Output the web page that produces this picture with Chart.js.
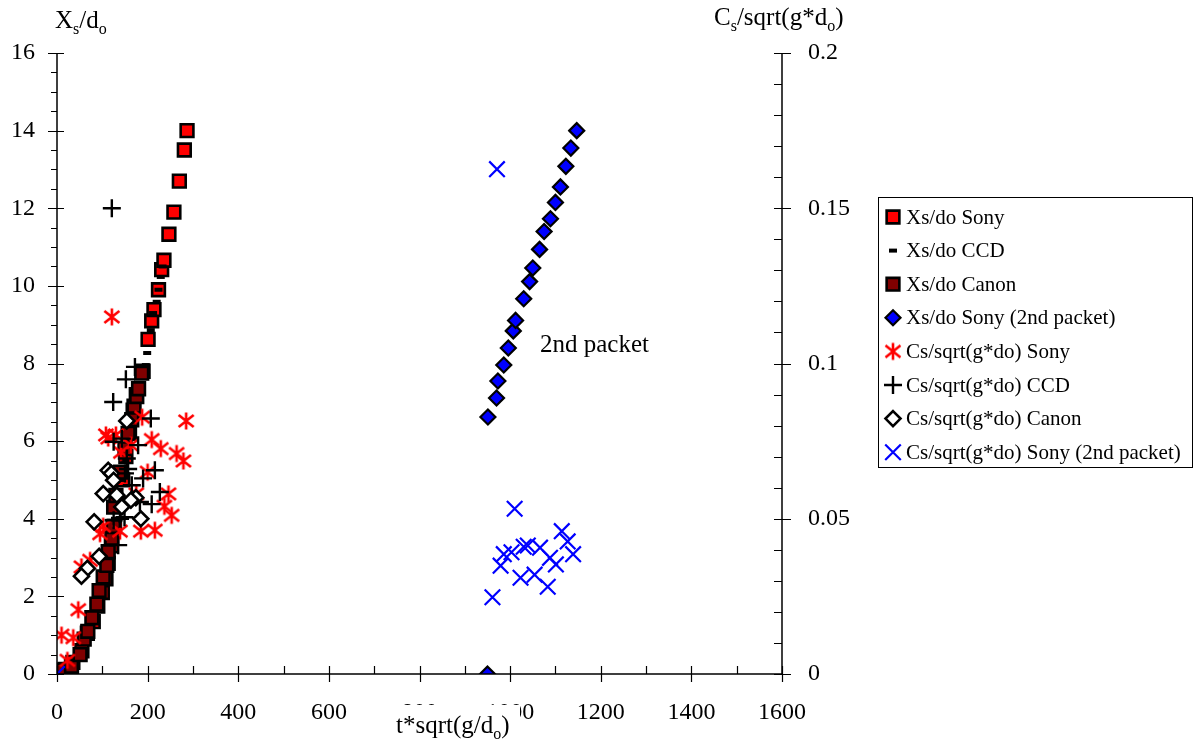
<!DOCTYPE html>
<html><head><meta charset="utf-8">
<script src="https://cdn.jsdelivr.net/npm/chart.js@4.4.0/dist/chart.umd.min.js"></script>
<style>html,body{margin:0;padding:0;background:#fff;}#wrap{width:1195px;height:744px;position:relative;}</style>
</head><body><div id="wrap"><canvas id="c" width="1195" height="744"></canvas></div>
<script>
const FONT = '"Liberation Serif","Times New Roman",serif';

// ---- data (t*sqrt(g/do) vs values) ----
const sonyT  = [0, 18, 35, 55, 67, 80, 90, 100, 108, 113, 120, 127, 135, 145, 152, 160, 168, 175, 190, 201, 209, 214, 224, 231, 236, 247, 258, 270, 281, 287];
const sonyXs = [0, 0.12, 0.3, 0.6, 1.05, 1.35, 1.75, 2.1, 2.45, 2.85, 3.3, 3.8, 4.4, 5.0, 5.6, 6.2, 6.8, 7.2, 7.8, 8.62, 9.1, 9.39, 9.9, 10.42, 10.66, 11.33, 11.9, 12.7, 13.5, 14.0];

const ccdT  = [0, 20, 40, 58, 70, 82, 92, 100, 108, 114, 120, 128, 135, 142, 150, 158, 165, 172, 180, 190, 196, 199, 207, 212, 220, 224, 229, 233];
const ccdXs = [0, 0.1, 0.3, 0.6, 1.0, 1.4, 1.9, 2.3, 2.7, 3.1, 3.6, 4.0, 4.5, 5.0, 5.5, 6.0, 6.5, 7.0, 7.4, 7.7, 7.96, 8.27, 8.86, 9.3, 9.59, 9.9, 10.23, 10.5];

const canonT  = [0, 14, 32, 51, 60, 68, 77, 88, 93, 102, 110, 113, 121, 124, 125, 130, 140, 150, 157, 165, 170, 176, 180, 187];
const canonXs = [0, 0.1, 0.2, 0.5, 0.9, 1.1, 1.45, 1.8, 2.15, 2.5, 2.8, 3.15, 3.5, 3.8, 4.3, 4.6, 5.2, 5.8, 6.2, 6.55, 6.9, 7.15, 7.35, 7.75];

const sony2T  = [950, 951, 970, 973, 986, 996, 1007, 1012, 1030, 1043, 1050, 1065, 1075, 1089, 1100, 1111, 1123, 1134, 1147];
const sony2Xs = [0, 6.62, 7.11, 7.55, 7.96, 8.40, 8.84, 9.11, 9.67, 10.11, 10.46, 10.94, 11.40, 11.73, 12.15, 12.55, 13.08, 13.55, 14.0];

const csSonyT = [10, 23, 36, 47, 54, 73, 95, 102, 139, 185, 216, 253, 237, 246, 113, 209, 229, 264, 279, 285, 121, 108, 130, 141, 188, 163, 200, 175];
const csSony  = [0.0125, 0.0044, 0.0117, 0.0207, 0.0345, 0.0366, 0.0452, 0.0476, 0.046, 0.046, 0.0463, 0.0511, 0.054, 0.058, 0.076, 0.0755, 0.0726, 0.071, 0.0686, 0.0815, 0.115, 0.077, 0.077, 0.0714, 0.0827, 0.0737, 0.065, 0.058];

const csCcdT = [121, 172, 152, 124, 207, 143, 125, 179, 154, 216, 150, 190, 227, 209, 183, 139, 125, 135, 165, 157, 149];
const csCcd  = [0.15, 0.0989, 0.0949, 0.0876, 0.0823, 0.0758, 0.0748, 0.0737, 0.0694, 0.0656, 0.0646, 0.063, 0.0586, 0.0547, 0.0554, 0.05, 0.0495, 0.0415, 0.0608, 0.066, 0.0505];

const csCanonT = [154, 113, 120, 125, 102, 132, 174, 163, 143, 185, 82, 93, 67, 54];
const csCanon  = [0.0815, 0.0656, 0.0646, 0.0624, 0.0581, 0.0576, 0.0568, 0.056, 0.0538, 0.05, 0.049, 0.0379, 0.034, 0.0315];

const csSony2T = [0, 971, 1010, 1114, 1127, 1139, 1066, 1039, 1030, 1003, 986, 979, 1088, 1101, 1023, 1054, 1083, 961];
const csSony2  = [0, 0.1626, 0.0532, 0.046, 0.0427, 0.0386, 0.0407, 0.0414, 0.041, 0.0392, 0.0386, 0.0349, 0.0374, 0.0353, 0.031, 0.032, 0.0281, 0.0247];

const xTickLabels = ['0','200','400','600','800','1000','1200','1400','1600'];
const leftTickLabels = ['0','2','4','6','8','10','12','14','16'];
const rightTickLabels = ['0','0.05','0.1','0.15','0.2'];
const seriesNames = ['Xs/do Sony','Xs/do CCD','Xs/do Canon','Xs/do Sony (2nd packet)','Cs/sqrt(g*do) Sony','Cs/sqrt(g*do) CCD','Cs/sqrt(g*do) Canon','Cs/sqrt(g*do) Sony (2nd packet)'];

const pts = (xs, ys) => xs.map((x, i) => ({x: x, y: ys[i]}));

// asterisk marker
function makeAsterisk() {
  const c = document.createElement('canvas');
  c.width = 20; c.height = 20;
  const g = c.getContext('2d');
  g.strokeStyle = '#FF0000'; g.lineWidth = 2.6; g.lineCap = 'butt';
  g.beginPath();
  g.moveTo(10, 1.5); g.lineTo(10, 18.5);
  g.moveTo(2.5, 4); g.lineTo(17.5, 16);
  g.moveTo(2.5, 16); g.lineTo(17.5, 4);
  g.stroke();
  return c;
}
const asterisk = makeAsterisk();

const styles = [
  {yAxisID:'y',  pointStyle:'rect',    pointRadius:9,   pointBackgroundColor:'#FF0000', pointBorderColor:'#000', pointBorderWidth:2.6},
  {yAxisID:'y',  pointStyle:'line',    pointRadius:4,   pointBackgroundColor:'#000',    pointBorderColor:'#000', pointBorderWidth:4},
  {yAxisID:'y',  pointStyle:'rect',    pointRadius:9,   pointBackgroundColor:'#800000', pointBorderColor:'#000', pointBorderWidth:2.6},
  {yAxisID:'y',  pointStyle:'rectRot', pointRadius:7.5, pointBackgroundColor:'#0000FF', pointBorderColor:'#000', pointBorderWidth:2.2},
  {yAxisID:'y2', pointStyle:asterisk,  pointRadius:10,  pointBackgroundColor:'#FF0000', pointBorderColor:'#FF0000', pointBorderWidth:1},
  {yAxisID:'y2', pointStyle:'cross',   pointRadius:9,   pointBackgroundColor:'#000',    pointBorderColor:'#000', pointBorderWidth:2.4},
  {yAxisID:'y2', pointStyle:'rectRot', pointRadius:7.5, pointBackgroundColor:'#FFFFFF', pointBorderColor:'#000', pointBorderWidth:2.6},
  {yAxisID:'y2', pointStyle:'crossRot',pointRadius:11,  pointBackgroundColor:'#0000FF', pointBorderColor:'#0000FF', pointBorderWidth:2.2}
];
const seriesData = [
  pts(sonyT, sonyXs), pts(ccdT, ccdXs), pts(canonT, canonXs), pts(sony2T, sony2Xs),
  pts(csSonyT, csSony), pts(csCcdT, csCcd), pts(csCanonT, csCanon), pts(csSony2T, csSony2)
];
const datasets = seriesData.map((d, i) => Object.assign({
  label: seriesNames[i], data: d, showLine: false, order: 10 - i,
  pointHoverRadius: styles[i].pointRadius
}, styles[i]));

function drawRich(ctx, parts, x, y, size) {
  let cx = x;
  parts.forEach(p => {
    const s = p.sub ? Math.round(size * 0.65) : size;
    ctx.font = s + 'px ' + FONT;
    ctx.fillText(p.t, cx, p.sub ? y + size * 0.22 : y);
    cx += ctx.measureText(p.t).width;
  });
  return cx - x;
}

function legendMarker(ctx, st, x, y) {
  ctx.save();
  ctx.lineWidth = st.pointBorderWidth;
  ctx.strokeStyle = st.pointBorderColor;
  ctx.fillStyle = st.pointBackgroundColor;
  const r = st.pointRadius;
  ctx.beginPath();
  if (typeof st.pointStyle !== 'string') {
    ctx.drawImage(st.pointStyle, x - 10, y - 10);
  } else if (st.pointStyle === 'rect') {
    const h = r * Math.SQRT1_2;
    ctx.rect(x - h, y - h, 2 * h, 2 * h); ctx.fill(); ctx.stroke();
  } else if (st.pointStyle === 'rectRot') {
    ctx.moveTo(x, y - r); ctx.lineTo(x + r, y); ctx.lineTo(x, y + r); ctx.lineTo(x - r, y); ctx.closePath();
    ctx.fill(); ctx.stroke();
  } else if (st.pointStyle === 'line') {
    ctx.moveTo(x - r, y); ctx.lineTo(x + r, y); ctx.stroke();
  } else if (st.pointStyle === 'cross') {
    ctx.moveTo(x - r, y); ctx.lineTo(x + r, y); ctx.moveTo(x, y - r); ctx.lineTo(x, y + r); ctx.stroke();
  } else if (st.pointStyle === 'crossRot') {
    const h = r * Math.SQRT1_2;
    ctx.moveTo(x - h, y - h); ctx.lineTo(x + h, y + h); ctx.moveTo(x - h, y + h); ctx.lineTo(x + h, y - h); ctx.stroke();
  }
  ctx.restore();
}

const decor = {
  id: 'decor',
  afterDraw(chart) {
    const ctx = chart.ctx;
    const xs = chart.scales.x, yl = chart.scales.y, yr = chart.scales.y2;
    const L = xs.left, R = xs.right, T = yl.top, B = yl.bottom;
    ctx.save();
    ctx.strokeStyle = '#000'; ctx.lineWidth = 1.5;
    ctx.beginPath();
    ctx.moveTo(L, T); ctx.lineTo(L, B);
    ctx.moveTo(R, T); ctx.lineTo(R, B);
    ctx.moveTo(L, B); ctx.lineTo(R, B);
    ctx.stroke();
    ctx.lineWidth = 1.2;
    ctx.beginPath();
    for (let v = 0; v <= 16.001; v += 0.5) {
      const p = Math.round(yl.getPixelForValue(v)) + 0.5;
      if (Math.abs(v / 2 - Math.round(v / 2)) < 1e-6) { ctx.moveTo(L - 9, p); ctx.lineTo(L + 7, p); }
      else { ctx.moveTo(L - 6, p); ctx.lineTo(L, p); }
    }
    for (let k = 0; k <= 20; k++) {
      const p = Math.round(yr.getPixelForValue(k * 0.01)) + 0.5;
      if (k % 5 === 0) { ctx.moveTo(R - 8, p); ctx.lineTo(R + 9, p); }
      else { ctx.moveTo(R - 8, p); ctx.lineTo(R, p); }
    }
    for (let v = 0; v <= 1600; v += 100) {
      const p = Math.round(xs.getPixelForValue(v)) + 0.5;
      if (v % 200 === 0) { ctx.moveTo(p, B - 8); ctx.lineTo(p, B + 8); }
      else { ctx.moveTo(p, B - 8); ctx.lineTo(p, B); }
    }
    ctx.stroke();

    // axis titles
    ctx.fillStyle = '#000';
    ctx.textBaseline = 'alphabetic';
    ctx.textAlign = 'left';
    drawRich(ctx, [{t:'X'},{t:'s',sub:true},{t:'/d'},{t:'o',sub:true}], 55, 28, 25);
    drawRich(ctx, [{t:'C'},{t:'s',sub:true},{t:'/sqrt(g*d'},{t:'o',sub:true},{t:')'}], 714, 25, 25);
    ctx.fillStyle = '#fff';
    ctx.fillRect(392, 705, 128, 39);
    ctx.fillStyle = '#000';
    drawRich(ctx, [{t:'t*sqrt(g/d'},{t:'o',sub:true},{t:')'}], 396, 733, 25);

    // annotation
    ctx.font = '25px ' + FONT;
    ctx.textBaseline = 'middle';
    ctx.fillText('2nd packet', 540, 345);

    // legend
    ctx.lineWidth = 1; ctx.strokeStyle = '#000';
    ctx.strokeRect(878.5, 197.5, 314, 270);
    ctx.font = '21px ' + FONT;
    ctx.textBaseline = 'middle';
    for (let i = 0; i < seriesNames.length; i++) {
      const y = 217 + i * 33.6;
      legendMarker(ctx, styles[i], 893, y);
      ctx.fillStyle = '#000';
      ctx.fillText(seriesNames[i], 906, y + 1);
    }
    ctx.restore();
  }
};

const tickFont = {family: FONT, size: 24};
new Chart(document.getElementById('c'), {
  type: 'scatter',
  data: {datasets: datasets},
  options: {
    responsive: false, animation: false, devicePixelRatio: 1,
    layout: {padding: {top: 53, left: 0, right: 0, bottom: 0}},
    plugins: {legend: {display: false}, tooltip: {enabled: false}},
    events: [],
    scales: {
      x: {type: 'linear', position: 'bottom', min: 0, max: 1600,
          ticks: {stepSize: 200, font: tickFont, color: '#000', padding: 24, maxRotation: 0, autoSkip: false,
                  callback: (v) => xTickLabels[Math.round(v / 200)]},
          grid: {display: false, drawTicks: false}, border: {display: false},
          afterFit(s) { s.height = 70; }},
      y: {type: 'linear', position: 'left', min: 0, max: 16,
          ticks: {stepSize: 2, font: tickFont, color: '#000', padding: 22,
                  callback: (v) => leftTickLabels[Math.round(v / 2)]},
          grid: {display: false, drawTicks: false}, border: {display: false},
          afterFit(s) { s.width = 57; }},
      y2: {type: 'linear', position: 'right', min: 0, max: 0.2,
          ticks: {stepSize: 0.05, font: tickFont, color: '#000', padding: 26,
                  callback: (v) => rightTickLabels[Math.round(v / 0.05)]},
          grid: {display: false, drawTicks: false}, border: {display: false},
          afterFit(s) { s.width = 413; }}
    }
  },
  plugins: [decor]
});
</script></body></html>
